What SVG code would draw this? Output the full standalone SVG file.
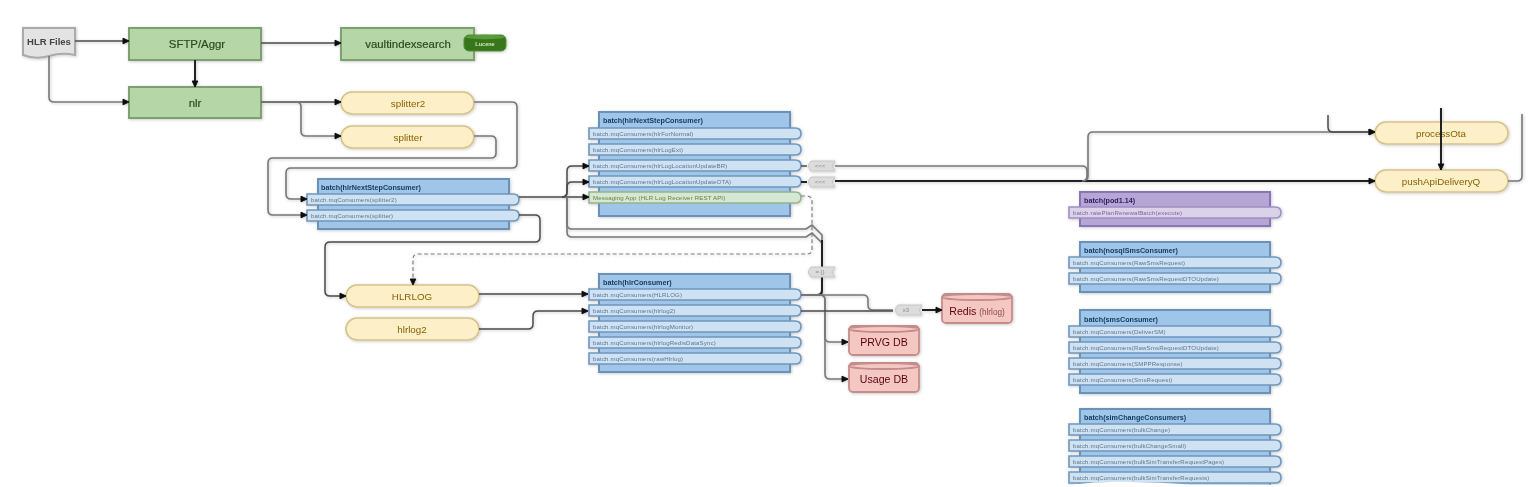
<svg xmlns="http://www.w3.org/2000/svg" width="1540" height="487" viewBox="0 0 1540 487">
<style>
text{font-family:"Liberation Sans",Arial,sans-serif}
.c{fill:none;stroke:#4a4a4a;stroke-width:1.5}
.k{fill:none;stroke:#222;stroke-width:2}
.g{fill:none;stroke:#777;stroke-width:1.6}
.d{fill:none;stroke:#808080;stroke-width:1.2;stroke-dasharray:4 2.5}
.arr{marker-end:url(#a)}
.gr{fill:#b5d6a6;stroke:#7e9f70;stroke-width:2}
.gt{font-size:11.4px;fill:#2c4a1e;text-anchor:middle;stroke:#2c4a1e;stroke-width:.2}
.q{fill:#fdefc8;stroke:#d6c28a;stroke-width:1.6}
.qt{font-size:9.8px;fill:#8a6200;text-anchor:middle}
.b{fill:#9fc5e8;stroke:#6a92b8;stroke-width:2}
.bt{font-size:7.2px;font-weight:bold;fill:#123a5c}
.r{fill:#cfe2f3;stroke:#6f97bd;stroke-width:1.6}
.rt{font-size:6.1px;fill:#5a7690;letter-spacing:.15px}
.p{fill:#b4a7d6;stroke:#8a74b4;stroke-width:2}
.pr{fill:#d9d2e9;stroke:#a08ec6;stroke-width:1.6}
.pt{font-size:7.2px;font-weight:bold;fill:#35185c}
.prt{font-size:6.1px;fill:#7a66a0;letter-spacing:.15px}
.mr{fill:#d5e8d4;stroke:#94b48c;stroke-width:1.6}
.mt{font-size:6.1px;fill:#6f7a3a;letter-spacing:.15px}
.db{fill:#f4c7c3;stroke:#c58c8c;stroke-width:1.8}
.dbt{font-size:10.6px;fill:#5c0011;text-anchor:middle}
.l{fill:#dcdcdc;stroke:#c6c6c6;stroke-width:1}
.lt{font-size:6px;fill:#888;text-anchor:middle}
</style>
<defs>
<marker id="a" viewBox="0 0 8 8" refX="7" refY="4" markerWidth="8" markerHeight="8" markerUnits="userSpaceOnUse" orient="auto"><path d="M1 1.2L7 4L1 6.8Z" fill="#111" stroke="#111" stroke-linejoin="round"/></marker>
<path id="row" d="M0 0H206Q212 0 212 5.5Q212 11 206 11H0Z"/>
<path id="tag" d="M5 0H29L26 5L29 10H5Q0 5 5 0Z"/>
<filter id="s" filterUnits="userSpaceOnUse" x="0" y="0" width="1540" height="487"><feDropShadow dx="0.8" dy="0.8" stdDeviation="1.4" flood-color="#000" flood-opacity="0.22"/><feGaussianBlur stdDeviation="0.45"/></filter>
</defs>
<g filter="url(#s)">
<g id="nodes-back">
<g id="hlrfiles"><path d="M23 28H75V55Q62 52 49 56T23 55Z" fill="#e3e3e3" stroke="#aaa" stroke-width="2"/><text x="49" y="45" font-size="9.5" font-weight="bold" text-anchor="middle" fill="#444">HLR Files</text></g>
<g id="sftp"><rect class="gr" x="129" y="28" width="132" height="32"/><text class="gt" x="197" y="48">SFTP/Aggr</text></g>
<g id="vault"><rect class="gr" x="341" y="28" width="133" height="32"/><text class="gt" x="408" y="48">vaultindexsearch</text>
<g id="lucene"><rect x="464" y="35" width="42" height="16" rx="5" fill="#38761d" stroke="#4f8f33"/><ellipse cx="485" cy="37" rx="20" ry="2.2" fill="#5a9a3a"/><text x="485" y="46" font-size="5.5" font-weight="bold" fill="#cfe8c0" text-anchor="middle">Lucene</text></g></g>
<g id="nlr"><rect class="gr" x="129" y="87" width="132" height="31"/><text class="gt" x="195" y="107">nlr</text></g>
<g id="splitter2"><rect class="q" x="341" y="92" width="133" height="22" rx="11"/><text class="qt" x="408" y="107">splitter2</text></g>
<g id="splitter"><rect class="q" x="341" y="126" width="133" height="22" rx="11"/><text class="qt" x="408" y="141">splitter</text></g>
<g id="hlrlog"><rect class="q" x="346" y="285" width="133" height="22" rx="11"/><text class="qt" x="412" y="300">HLRLOG</text></g>
<g id="hlrlog2"><rect class="q" x="346" y="318" width="133" height="22" rx="11"/><text class="qt" x="412" y="333">hlrlog2</text></g>
<g id="processOta"><rect class="q" x="1375" y="122" width="133" height="22" rx="11"/><text class="qt" x="1441" y="137">processOta</text></g>
<g id="pushApi"><rect class="q" x="1375" y="170" width="133" height="22" rx="11"/><text class="qt" x="1441" y="185">pushApiDeliveryQ</text></g>

<g id="batch1"><rect class="b" x="318" y="179" width="191" height="50"/><text class="bt" x="321" y="190">batch(hlrNextStepConsumer)</text>
<use href="#row" class="r" x="307" y="194"/><text class="rt" x="311" y="202">batch.mqConsumers(splitter2)</text>
<use href="#row" class="r" x="307" y="210"/><text class="rt" x="311" y="218">batch.mqConsumers(splitter)</text></g>

<g id="batch2"><rect class="b" x="599" y="112" width="191" height="104"/><text class="bt" x="603" y="123">batch(hlrNextStepConsumer)</text>
<use href="#row" class="r" x="589" y="128"/><text class="rt" x="593" y="136">batch.mqConsumers(hlrForNormal)</text>
<use href="#row" class="r" x="589" y="144"/><text class="rt" x="593" y="152">batch.mqConsumers(hlrLogExt)</text>
<use href="#row" class="r" x="589" y="160"/><text class="rt" x="593" y="168">batch.mqConsumers(hlrLogLocationUpdateBR)</text>
<use href="#row" class="r" x="589" y="176"/><text class="rt" x="593" y="184">batch.mqConsumers(hlrLogLocationUpdateOTA)</text>
<use href="#row" class="mr" x="589" y="192"/><text class="mt" x="593" y="200">Messaging App (HLR Log Receiver REST API)</text></g>

<g id="batch3"><rect class="b" x="599" y="274" width="191" height="98"/><text class="bt" x="603" y="285">batch(hlrConsumer)</text>
<use href="#row" class="r" x="589" y="289"/><text class="rt" x="593" y="297">batch.mqConsumers(HLRLOG)</text>
<use href="#row" class="r" x="589" y="305"/><text class="rt" x="593" y="313">batch.mqConsumers(hlrlog2)</text>
<use href="#row" class="r" x="589" y="321"/><text class="rt" x="593" y="329">batch.mqConsumers(hlrlogMonitor)</text>
<use href="#row" class="r" x="589" y="337"/><text class="rt" x="593" y="345">batch.mqConsumers(hlrlogRedisDataSync)</text>
<use href="#row" class="r" x="589" y="353"/><text class="rt" x="593" y="361">batch.mqConsumers(rawHlrlog)</text></g>

<g id="pod"><rect class="p" x="1080" y="192" width="190" height="34"/><text class="pt" x="1084" y="203">batch(pod1.14)</text>
<use href="#row" class="pr" x="1069" y="207"/><text class="prt" x="1073" y="215">batch.ratePlanRenewalBatch(execute)</text></g>

<g id="nosql"><rect class="b" x="1080" y="242" width="190" height="50"/><text class="bt" x="1084" y="253">batch(nosqlSmsConsumer)</text>
<use href="#row" class="r" x="1069" y="257"/><text class="rt" x="1073" y="265">batch.mqConsumers(RawSmsRequest)</text>
<use href="#row" class="r" x="1069" y="273"/><text class="rt" x="1073" y="281">batch.mqConsumers(RawSmsRequestDTOUpdate)</text></g>

<g id="sms"><rect class="b" x="1080" y="310" width="190" height="83"/><text class="bt" x="1084" y="322">batch(smsConsumer)</text>
<use href="#row" class="r" x="1069" y="326"/><text class="rt" x="1073" y="334">batch.mqConsumers(DeliverSM)</text>
<use href="#row" class="r" x="1069" y="342"/><text class="rt" x="1073" y="350">batch.mqConsumers(RawSmsRequestDTOUpdate)</text>
<use href="#row" class="r" x="1069" y="358"/><text class="rt" x="1073" y="366">batch.mqConsumers(SMPPResponse)</text>
<use href="#row" class="r" x="1069" y="374"/><text class="rt" x="1073" y="382">batch.mqConsumers(SmsRequest)</text></g>

<g id="sim"><rect class="b" x="1080" y="409" width="190" height="90"/><text class="bt" x="1084" y="420">batch(simChangeConsumers)</text>
<use href="#row" class="r" x="1069" y="424"/><text class="rt" x="1073" y="432">batch.mqConsumers(bulkChange)</text>
<use href="#row" class="r" x="1069" y="440"/><text class="rt" x="1073" y="448">batch.mqConsumers(bulkChangeSmall)</text>
<use href="#row" class="r" x="1069" y="456"/><text class="rt" x="1073" y="464">batch.mqConsumers(bulkSimTransferRequestPages)</text>
<use href="#row" class="r" x="1069" y="472"/><text class="rt" x="1073" y="480">batch.mqConsumers(bulkSimTransferRequests)</text></g>

<g id="prvg"><rect class="db" x="849" y="326" width="70" height="29" rx="4"/><ellipse class="db" cx="884" cy="329" rx="35" ry="3"/><text class="dbt" x="884" y="346">PRVG DB</text></g>
<g id="usage"><rect class="db" x="849" y="363" width="70" height="29" rx="4"/><ellipse class="db" cx="884" cy="366" rx="35" ry="3"/><text class="dbt" x="884" y="383">Usage DB</text></g>
<g id="redis"><rect class="db" x="942" y="294" width="70" height="29" rx="4"/><ellipse class="db" cx="977" cy="297" rx="35" ry="3"/><text class="dbt" x="977" y="315">Redis <tspan font-size="8.2" fill="#8a4a4a">(hlrlog)</tspan></text></g>
</g>

<g id="connectors">
<path class="c arr" d="M75 41H129"/>
<path class="c arr" d="M261 43H341"/>
<path class="k arr" d="M195 60V87"/>
<path class="g arr" d="M49 56V97Q49 102 54 102H129"/>
<path class="c arr" d="M261 102H341"/>
<path class="g arr" d="M261 102H296Q301 102 301 107V131Q301 136 306 136H341"/>
<path class="g arr" d="M474 102H512Q517 102 517 107V163Q517 168 512 168H291Q286 168 286 173V194Q286 199 291 199H307"/>
<path class="g arr" d="M474 136H491Q496 136 496 141V153Q496 158 491 158H273Q268 158 268 163V210Q268 215 273 215H307"/>
<path class="c arr" d="M519 197H589"/>
<path class="c arr" d="M562 197Q567 197 567 192V171Q567 166 572 166H589"/>
<path class="c arr" d="M562 197Q567 197 567 192V187Q567 182 572 182H589"/>
<path class="c arr" d="M519 215H535Q540 215 540 220V237Q540 242 535 242H330Q325 242 325 247V291Q325 296 330 296H346"/>
<path class="d arr" d="M801 196H806Q812 196 812 201V249Q812 254 807 254H418Q413 254 413 259V285"/>
<path class="g" d="M567 197V224Q567 229 572 229H806L812 225L822 235V295"/>
<path class="g" d="M567 197V232Q567 237 572 237H806L812 233L822 243"/>
<path class="k" d="M822 240V290Q822 295 817 295H801"/>
<path class="c arr" d="M479 294H588"/>
<path class="c arr" d="M479 329H528Q533 329 533 324V316Q533 311 538 311H588"/>
<path class="g arr" d="M801 295H820Q825 295 825 300V337Q825 342 830 342H848"/>
<path class="g arr" d="M801 295H820Q825 295 825 300V374Q825 379 830 379H848"/>
<path class="g" d="M801 295H863Q868 295 868 300V305Q868 310 873 310H893"/>
<path class="c" d="M801 311H893"/>
<path class="k arr" d="M922 310H942"/>
<path class="g" d="M835 166H1082Q1087 166 1087 171V176Q1087 181 1082 181H835"/>
<path class="k arr" d="M835 181H1375"/>
<path class="g arr" d="M1082 181Q1088 181 1088 176V137Q1088 132 1093 132H1375"/>
<path class="c arr" d="M1328 115V127Q1328 132 1333 132H1375"/>
<path class="k arr" d="M1441 108V170"/>
<path class="g" d="M1508 181H1517Q1522 181 1522 176V114"/>
<path class="c" d="M801 166H807"/><path class="k" d="M801 182H807"/>
<g id="labels">
<use href="#tag" class="l" x="806" y="161"/><text class="lt" x="820" y="168">&lt;&lt;&lt;</text>
<use href="#tag" class="l" x="806" y="177"/><text class="lt" x="820" y="184">&lt;&lt;&lt;</text>
<use href="#tag" class="l" x="806" y="267"/><text class="lt" x="820" y="274">= {}</text>
<use href="#tag" class="l" x="893" y="305"/><text class="lt" x="906" y="312">x3</text>
</g>
</g>
</g>
<path id="page-edge" d="M940 485Q1040 484 1069 485Q1100 481 1130 482Q1160 482 1190 484.500L1340 485V487H940Z" fill="#fff"/>
</svg>
